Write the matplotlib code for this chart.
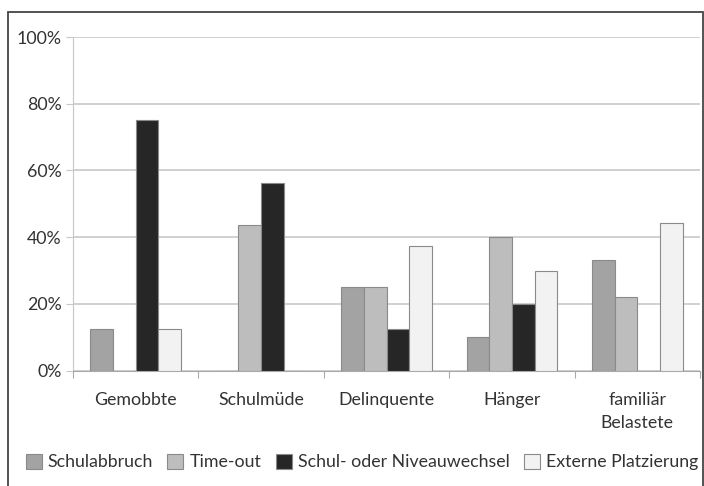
import matplotlib.pyplot as plt
import numpy as np
from matplotlib.patches import Rectangle

plt.rcParams['font.family'] = ['Lato', 'DejaVu Sans']

categories = ["Gemobbte", "Schulmüde", "Delinquente", "Hänger", "familiär\nBelastete"]
series = ["Schulabbruch", "Time-out", "Schul- oder Niveauwechsel", "Externe Platzierung"]
schulabbruch = [12.5, 0, 25, 10, 33.3]
timeout = [0, 43.75, 25, 40, 22.2]
wechsel = [75, 56.25, 12.5, 20, 0]
extern = [12.5, 0, 37.5, 30, 44.4]
values = [schulabbruch, timeout, wechsel, extern]
colors = ["#a3a3a3", "#bdbdbd", "#262626", "#f2f2f2"]

fig = plt.figure(figsize=(7.04, 4.86), dpi=100)
ax = fig.add_axes([73/704, 1-370.7/486, (700-73)/704, 333.7/486])

# outer chart frame
fig.patches.append(Rectangle((8/704, -0.01), 695/704, 1-12/486+0.01,
                             transform=fig.transFigure, fill=False,
                             edgecolor="#444444", lw=1.3))

x = np.arange(len(categories))
w = 0.181
for i, (vals, c) in enumerate(zip(values, colors)):
    ax.bar(x + (i-1.5)*w, vals, w, color=c, edgecolor="#8a8a8a", lw=0.8,
           label=series[i], zorder=3)

ax.set_xlim(-0.5, len(categories)-0.5)
ax.set_ylim(0, 100)
ax.set_yticks(np.arange(0, 101, 20))
ax.set_yticklabels([f"{v}%" for v in range(0, 101, 20)], fontsize=12.8, color="#333333")
ax.yaxis.grid(True, color="#c8c8c8", lw=1.2, zorder=0)
ax.set_xticks(np.arange(-0.5, len(categories), 1))
ax.set_xticklabels([])
ax.set_xticks(x, minor=True)
ax.set_xticklabels(categories, minor=True, fontsize=12.8, color="#333333", linespacing=1.6)
ax.tick_params(axis='x', which='minor', length=0, pad=15)
ax.tick_params(axis='x', which='major', length=5, color="#aaaaaa")
ax.tick_params(axis='y', length=5, color="#c8c8c8", pad=3)
for s in ["top", "right"]:
    ax.spines[s].set_visible(False)
ax.spines["left"].set_color("#c8c8c8")
ax.spines["bottom"].set_color("#aaaaaa")

fig.legend(loc="center", bbox_to_anchor=(0.5 + 10/704, 1-462/486), ncol=4, frameon=False,
           fontsize=12.8, handlelength=0.9, handleheight=0.9, handletextpad=0.35,
           columnspacing=0.8, labelcolor="#333333")

fig.savefig("out.png", dpi=100)
